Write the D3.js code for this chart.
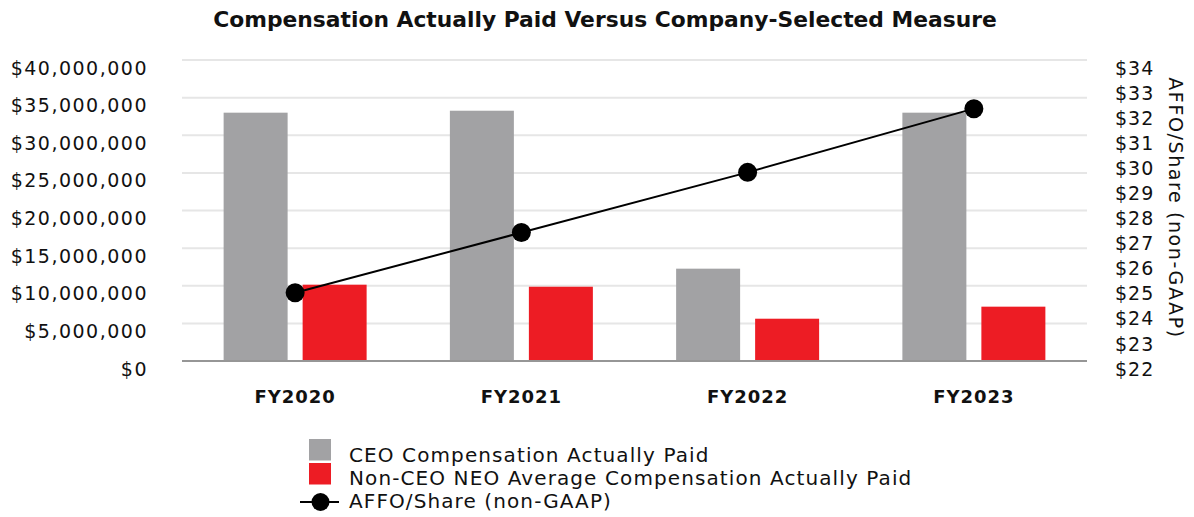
<!DOCTYPE html>
<html>
<head>
<meta charset="utf-8">
<script src="https://cdn.jsdelivr.net/npm/d3@7"></script>
<style>
  html, body { margin: 0; padding: 0; background: #fff; }
  svg { display: block; }
  text { font-family: "DejaVu Sans", sans-serif; fill: #111; }
</style>
</head>
<body>
<svg id="chart" width="1194" height="517"></svg>
<script>
// Fiscal years on the category axis
const categories = ["FY2020", "FY2021", "FY2022", "FY2023"];
// Compensation actually paid (USD)
const ceoPaid = [33000000, 33260000, 12270000, 33000000];
const neoAvgPaid = [10140000, 9870000, 5620000, 7220000];
// AFFO per share (non-GAAP, USD)
const affoPerShare = [24.72, 27.12, 29.52, 32.06];
// Axis ticks
const leftTicks = [0, 5000000, 10000000, 15000000, 20000000, 25000000, 30000000, 35000000, 40000000];
const rightTicks = [22, 23, 24, 25, 26, 27, 28, 29, 30, 31, 32, 33, 34];

const seriesKeys = ["ceo", "neo"];
const seriesNames = ["CEO Compensation Actually Paid", "Non-CEO NEO Average Compensation Actually Paid"];
const seriesColors = { ceo: "#a2a2a4", neo: "#ed1c24" };

const rows = categories.map((c, i) => ({ cat: c, ceo: ceoPaid[i], neo: neoAvgPaid[i], affo: affoPerShare[i] }));

const svg = d3.select("#chart");
const plot = { left: 182, right: 1087, top: 60, bottom: 361 };

const x0 = d3.scaleBand().domain(categories).range([plot.left, plot.right])
  .paddingInner(0.368).paddingOuter(0.184);
const x1 = d3.scaleBand().domain(seriesKeys).range([0, x0.bandwidth()]).paddingInner(0.19);
const yL = d3.scaleLinear().domain([0, 40000000]).range([plot.bottom, plot.top]);
const yR = d3.scaleLinear().domain([22, 34]).range([plot.bottom, plot.top]);

// Title
svg.append("text")
  .attr("x", 605).attr("y", 27)
  .attr("text-anchor", "middle")
  .style("font-family", "'DejaVu Sans', sans-serif")
  .style("font-weight", 700)
  .style("font-size", "21.8px")
  .text("Compensation Actually Paid Versus Company-Selected Measure");

// Horizontal gridlines
svg.append("g").selectAll("line")
  .data(leftTicks.filter(t => t > 0))
  .join("line")
  .attr("x1", plot.left).attr("x2", plot.right)
  .attr("y1", d => yL(d)).attr("y2", d => yL(d))
  .attr("stroke", "#e6e6e6").attr("stroke-width", 2);

// Left axis labels
const fmtMoney = d => "$" + d3.format(",")(d);
const leftAxis = d3.axisLeft(yL).tickValues(leftTicks).tickFormat(fmtMoney).tickSize(0).tickPadding(34);
const gL = svg.append("g").attr("transform", `translate(${plot.left},0)`).call(leftAxis);
gL.select(".domain").remove();
gL.selectAll("text")
  .attr("dy", "0.32em").attr("y", 8)
  .style("font-family", "'DejaVu Sans', sans-serif")
  .style("font-size", "19px").style("letter-spacing", "1.5px").attr("fill", "#111");

// Right axis labels
const rightAxis = d3.axisRight(yR).tickValues(rightTicks).tickFormat(d => "$" + d).tickSize(0).tickPadding(28);
const gR = svg.append("g").attr("transform", `translate(${plot.right},0)`).call(rightAxis);
gR.select(".domain").remove();
gR.selectAll("text")
  .attr("dy", "0.32em").attr("y", 8)
  .style("font-family", "'DejaVu Sans', sans-serif")
  .style("font-size", "19px").style("letter-spacing", "1px").attr("fill", "#111");

// Right axis title
svg.append("text")
  .attr("transform", "translate(1169,208) rotate(90)")
  .attr("text-anchor", "middle")
  .style("font-size", "19px").style("letter-spacing", "1.6px")
  .text("AFFO/Share (non-GAAP)");

// Bars
const groups = svg.append("g").selectAll("g")
  .data(rows).join("g")
  .attr("transform", d => `translate(${x0(d.cat)},0)`);
groups.selectAll("rect")
  .data(d => seriesKeys.map(k => ({ key: k, value: d[k] })))
  .join("rect")
  .attr("x", d => x1(d.key))
  .attr("width", x1.bandwidth())
  .attr("y", d => yL(d.value))
  .attr("height", d => yL(0) - yL(d.value))
  .attr("fill", d => seriesColors[d.key]);

// Baseline
svg.append("line")
  .attr("x1", plot.left).attr("x2", plot.right)
  .attr("y1", yL(0)).attr("y2", yL(0))
  .attr("stroke", "#969696").attr("stroke-width", 2);

// Category labels
const xAxis = d3.axisBottom(x0).tickSize(0).tickPadding(0);
const gX = svg.append("g").attr("transform", `translate(0,${plot.bottom})`).call(xAxis);
gX.select(".domain").remove();
gX.selectAll("text")
  .attr("y", 42).attr("dy", 0)
  .style("font-family", "'DejaVu Sans', sans-serif")
  .style("font-weight", 700).style("font-size", "18px").style("letter-spacing", "1px")
  .attr("fill", "#111");

// AFFO/share line with markers
const cx = d => x0(d.cat) + x0.bandwidth() / 2;
svg.append("path")
  .datum(rows)
  .attr("fill", "none").attr("stroke", "#000").attr("stroke-width", 2)
  .attr("d", d3.line().x(cx).y(d => yR(d.affo)));
svg.append("g").selectAll("circle")
  .data(rows).join("circle")
  .attr("cx", cx).attr("cy", d => yR(d.affo)).attr("r", 9.5)
  .attr("fill", "#000");

// Legend
const legend = svg.append("g");
seriesKeys.forEach((k, i) => {
  legend.append("rect")
    .attr("x", 309).attr("y", 439 + i * 24)
    .attr("width", 22).attr("height", 21.5)
    .attr("fill", seriesColors[k]);
  legend.append("text")
    .attr("x", 349).attr("y", 462 + i * 23)
    .style("font-size", "20px").style("letter-spacing", "1.1px")
    .text(seriesNames[i]);
});
legend.append("line")
  .attr("x1", 300).attr("x2", 339).attr("y1", 502).attr("y2", 502)
  .attr("stroke", "#000").attr("stroke-width", 2);
legend.append("circle").attr("cx", 320.5).attr("cy", 502).attr("r", 9).attr("fill", "#000");
legend.append("text")
  .attr("x", 349).attr("y", 508)
  .style("font-size", "20px").style("letter-spacing", "1.1px")
  .text("AFFO/Share (non-GAAP)");
</script>
</body>
</html>
